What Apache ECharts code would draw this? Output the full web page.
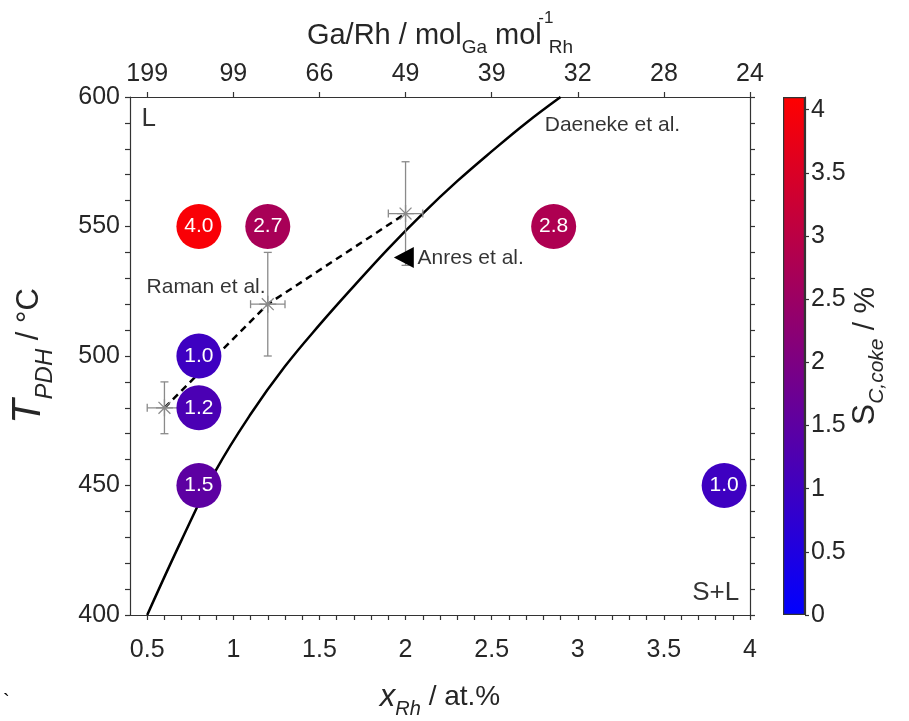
<!DOCTYPE html>
<html><head><meta charset="utf-8">
<script src="https://cdn.jsdelivr.net/npm/echarts@6/dist/echarts.min.js"></script>
<style>html,body{margin:0;padding:0;background:#fff}#c{width:909px;height:721px}</style>
</head><body><div id="c"></div>
<script>
// ---- data ----
const xTicks = [0.5, 1, 1.5, 2, 2.5, 3, 3.5, 4];
const xTickLabels = ['0.5', '1', '1.5', '2', '2.5', '3', '3.5', '4'];
const topTickLabels = ['199', '99', '66', '49', '39', '32', '28', '24'];
const yTickLabels = [400, 450, 500, 550, 600];
const cbarTicks = [0, 0.5, 1, 1.5, 2, 2.5, 3, 3.5, 4];

const bubbleX = [0.8, 1.2, 2.86, 0.8, 0.8, 0.8, 3.85];
const bubbleT = [550, 550, 550, 500, 480, 450, 450];
const bubbleS = [4.0, 2.7, 2.8, 1.0, 1.2, 1.5, 1.0];

const daenekeX = [0.5, 0.7, 0.9, 1.1, 1.3, 1.5, 1.7, 1.9, 2.1, 2.3, 2.5, 2.7, 2.9];
const daenekeT = [400, 429, 456, 477.5, 496, 512, 527, 541.5, 555, 567.5, 579, 590, 600];

const ramanX = [0.6, 1.2, 2.0];
const ramanT = [480, 520, 555];
const ramanXErr = [0.1, 0.1, 0.1];
const ramanTErr = [10, 20, 20];

const anresX = [1.99];
const anresT = [538];

const annotations = [
  { text: 'L', x: 0.467, y: 591.5, side: 'right', size: 26 },
  { text: 'S+L', x: 3.937, y: 408.5, side: 'left', size: 26 },
  { text: 'Daeneke et al.', x: 2.808, y: 589.2, side: 'right', size: 21 },
  { text: 'Raman et al.', x: 0.496, y: 526.4, side: 'right', size: 21 },
  { text: 'Anres et al.', x: 2.07, y: 537.8, side: 'right', size: 21 }
];

// ---- chart ----
const FONT = 'Liberation Sans, Arial, Helvetica, sans-serif';
const TXT = '#262626';
const AX = '#333333';
const minorX = [];
for (let i = 5; i <= 40; i++) minorX.push(i / 10);

const lineStyleAx = { color: AX, width: 1.2 };
const base = { fontFamily: FONT, color: TXT };

const richX = {
  i: Object.assign({ fontSize: 31, fontStyle: 'italic', lineHeight: 44 }, base),
  si: Object.assign({ fontSize: 20, fontStyle: 'italic', verticalAlign: 'bottom' }, base),
  n: Object.assign({ fontSize: 28, lineHeight: 44 }, base)
};
const richY = {
  i: Object.assign({ fontSize: 40, fontStyle: 'italic', lineHeight: 56 }, base),
  si: Object.assign({ fontSize: 24, fontStyle: 'italic', verticalAlign: 'bottom' }, base),
  n: Object.assign({ fontSize: 31, lineHeight: 56 }, base)
};
const richTop = {
  n: Object.assign({ fontSize: 29, lineHeight: 52 }, base),
  s: Object.assign({ fontSize: 19, verticalAlign: 'bottom', padding: [0, 0, 5, 0] }, base),
  sr: Object.assign({ fontSize: 19, verticalAlign: 'bottom', padding: [0, 0, 5, 3] }, base),
  sup: Object.assign({ fontSize: 17, verticalAlign: 'top', width: 0, align: 'left', padding: [0, 0, 0, 4] }, base)
};
const richC = {
  n: Object.assign({ fontSize: 32, lineHeight: 44 }, base),
  si: Object.assign({ fontSize: 21, fontStyle: 'italic', verticalAlign: 'bottom' }, base),
  m: Object.assign({ fontSize: 30, lineHeight: 44 }, base)
};

const chart = echarts.init(document.getElementById('c'), null, { renderer: 'canvas' });

const option = {
  animation: false,
  backgroundColor: '#fff',
  grid: [
    { left: 130, right: 159, top: 97, bottom: 106, outerBoundsMode: 'none', containLabel: false },
    { left: 783, width: 22, top: 97, bottom: 106, outerBoundsMode: 'none', containLabel: false }
  ],
  visualMap: [{
    type: 'continuous', show: false, seriesIndex: 4, dimension: 2,
    min: 0, max: 4.1, inRange: { color: ['#0000ff', '#ff0000'] }
  }],
  xAxis: [
    {
      type: 'value', gridIndex: 0, position: 'bottom', min: 0.4, max: 4,
      axisLine: { show: true, onZero: false, lineStyle: lineStyleAx },
      axisTick: { show: true, customValues: minorX, length: 5, lineStyle: lineStyleAx },
      axisLabel: {
        customValues: xTicks, fontSize: 25, fontFamily: FONT, color: TXT, margin: 23,
        formatter: v => xTickLabels[xTicks.indexOf(Math.round(v * 10) / 10)] ?? ''
      },
      splitLine: { show: false },
      name: '{i|x}{si|Rh}{n| / at.%}', nameLocation: 'middle', nameGap: 60,
      nameTextStyle: { rich: richX }
    },
    {
      type: 'value', gridIndex: 0, position: 'top', min: 0.4, max: 4,
      axisLine: { show: true, onZero: false, lineStyle: lineStyleAx },
      axisTick: { show: true, customValues: xTicks, length: 5, lineStyle: lineStyleAx },
      axisLabel: {
        customValues: xTicks, fontSize: 25, fontFamily: FONT, color: TXT, margin: 10,
        formatter: v => topTickLabels[xTicks.indexOf(Math.round(v * 10) / 10)] ?? ''
      },
      splitLine: { show: false },
      name: '{n|Ga/Rh / mol}{s|Ga}{n| mol}{sup|-1}{sr|Rh}', nameLocation: 'middle', nameGap: 26,
      nameTextStyle: { rich: richTop }
    },
    {
      type: 'category', gridIndex: 1, data: ['c'], show: false
    }
  ],
  yAxis: [
    {
      type: 'value', gridIndex: 0, position: 'left', min: 400, max: 600, interval: 10,
      axisLine: { show: true, onZero: false, lineStyle: lineStyleAx },
      axisTick: { show: true, length: 5, lineStyle: lineStyleAx },
      axisLabel: { customValues: yTickLabels, fontSize: 25, fontFamily: FONT, color: TXT, margin: 10 },
      splitLine: { show: false },
      name: '{i|T}{si|PDH}{n| / °C}', nameLocation: 'middle', nameGap: 73,
      nameTextStyle: { rich: richY }
    },
    {
      type: 'value', gridIndex: 0, position: 'right', min: 400, max: 600, interval: 10,
      axisLine: { show: true, onZero: false, lineStyle: lineStyleAx },
      axisTick: { show: true, length: 5, lineStyle: lineStyleAx },
      axisLabel: { show: false },
      splitLine: { show: false }
    },
    {
      type: 'value', gridIndex: 1, position: 'right', min: 0, max: 4.1,
      axisLine: { show: true, lineStyle: lineStyleAx },
      axisTick: { show: true, customValues: cbarTicks, length: 4, lineStyle: lineStyleAx },
      axisLabel: { customValues: cbarTicks, fontSize: 25, fontFamily: FONT, color: TXT, margin: 6 },
      splitLine: { show: false },
      name: '{n|S}{si|C,coke}{m| / %}', nameLocation: 'middle', nameGap: 37,
      nameTextStyle: { rich: richC }
    }
  ],
  series: [
    {
      type: 'line', name: 'Daeneke', xAxisIndex: 0, yAxisIndex: 0,
      data: daenekeX.map((x, i) => [x, daenekeT[i]]),
      showSymbol: false, smooth: 0.4,
      lineStyle: { color: '#000', width: 2.5 }, z: 2
    },
    {
      type: 'line', name: 'Raman', xAxisIndex: 0, yAxisIndex: 0,
      data: ramanX.map((x, i) => [x, ramanT[i]]),
      showSymbol: false, lineStyle: { color: '#000', width: 2.5, type: [7, 5] }, z: 2
    },
    {
      type: 'custom', name: 'err', xAxisIndex: 0, yAxisIndex: 0,
      data: ramanX.map((x, i) => [x, ramanT[i], ramanXErr[i], ramanTErr[i]]),
      renderItem: function (params, api) {
        const x = api.value(0), y = api.value(1), ex = api.value(2), ey = api.value(3);
        const l = api.coord([x - ex, y]), r = api.coord([x + ex, y]);
        const t = api.coord([x, y + ey]), b = api.coord([x, y - ey]);
        const cap = 4;
        const st = { stroke: '#8a8a8a', lineWidth: 1.3, fill: null };
        const ln = (x1, y1, x2, y2) => ({ type: 'line', shape: { x1, y1, x2, y2 }, style: st });
        return {
          type: 'group', children: [
            ln(l[0], l[1], r[0], r[1]),
            ln(l[0], l[1] - cap, l[0], l[1] + cap),
            ln(r[0], r[1] - cap, r[0], r[1] + cap),
            ln(t[0], t[1], b[0], b[1]),
            ln(t[0] - cap, t[1], t[0] + cap, t[1]),
            ln(b[0] - cap, b[1], b[0] + cap, b[1])
          ]
        };
      },
      z: 3
    },
    {
      type: 'scatter', name: 'star', xAxisIndex: 0, yAxisIndex: 0,
      data: ramanX.map((x, i) => [x, ramanT[i]]),
      symbol: 'path://M0,-10L0,10M-10,0L10,0M-7,-7L7,7M-7,7L7,-7',
      symbolSize: 17,
      itemStyle: { color: 'rgba(0,0,0,0)', borderColor: '#8a8a8a', borderWidth: 1.3, opacity: 1 },
      z: 3
    },
    {
      type: 'scatter', name: 'bubbles', xAxisIndex: 0, yAxisIndex: 0,
      data: bubbleX.map((x, i) => [x, bubbleT[i], bubbleS[i]]),
      symbolSize: 45,
      itemStyle: { opacity: 1 },
      label: {
        show: true, position: 'inside', color: '#fff', fontSize: 21, fontFamily: FONT,
        formatter: p => p.value[2].toFixed(1)
      },
      z: 4
    },
    {
      type: 'scatter', name: 'Anres', xAxisIndex: 0, yAxisIndex: 0,
      data: anresX.map((x, i) => [x, anresT[i]]),
      symbol: 'path://M0,10L18,0L18,20Z', symbolSize: [20, 21],
      itemStyle: { color: '#000', opacity: 1 },
      z: 5
    },
    {
      type: 'scatter', name: 'text', xAxisIndex: 0, yAxisIndex: 0,
      symbolSize: 0, silent: true,
      data: annotations.map(a => ({
        value: [a.x, a.y], name: a.text,
        label: {
          show: true, position: a.side, distance: 0, formatter: a.text,
          fontSize: a.size, fontFamily: FONT, color: '#000'
        }
      })),
      z: 6
    },
    {
      type: 'bar', name: 'cbar', xAxisIndex: 2, yAxisIndex: 2,
      data: [4.1], barWidth: '100%', silent: true,
      itemStyle: {
        color: new echarts.graphic.LinearGradient(0, 0, 0, 1, [
          { offset: 0, color: '#ff0000' }, { offset: 1, color: '#0000ff' }
        ]),
        borderColor: AX, borderWidth: 1.2
      }
    }
  ],
  graphic: [
    { type: 'text', left: 3, top: 692, style: { text: '`', fontSize: 20, fontFamily: FONT, fill: '#000' } }
  ]
};
chart.setOption(option);
</script>
</body></html>
